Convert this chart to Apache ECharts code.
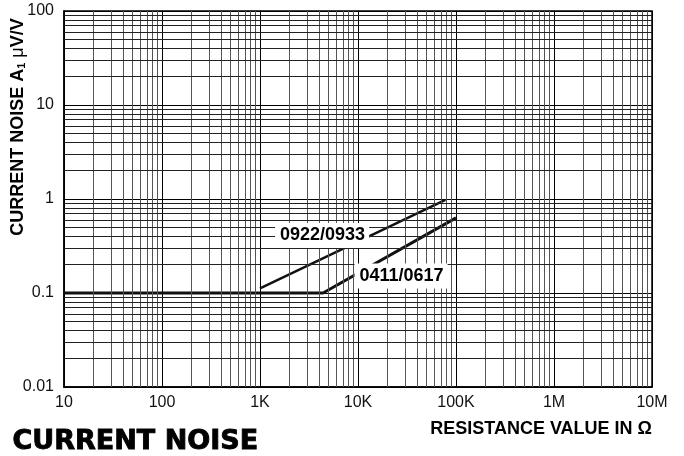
<!DOCTYPE html>
<html>
<head>
<meta charset="utf-8">
<script src="https://cdn.jsdelivr.net/npm/echarts@6/dist/echarts.min.js"></script>
<style>
  html, body { margin: 0; padding: 0; background: #fff; }
  #main { width: 684px; height: 456px; }
</style>
</head>
<body>
<div id="main"></div>
<script>
// values
var xTickLabels = {10: '10', 100: '100', 1000: '1K', 10000: '10K', 100000: '100K', 1000000: '1M', 10000000: '10M'};
var yTickLabels = {0.01: '0.01', 0.1: '0.1', 1: '1', 10: '10', 100: '100'};

var series0922 = [[1000, 0.112], [78000, 0.98]];
var series0411 = [[10, 0.1], [4400, 0.1], [100000, 0.63]];

var labelNames = ['0922/0933', '0411/0617'];
var labelAnchors = [[4300, 0.41], [27500, 0.152]];

// minor grid of the log paper
var xDecades = [10, 100, 1000, 10000, 100000, 1000000];
var yDecades = [0.01, 0.1, 1, 10];
var minorSteps = [2, 3, 4, 5, 6, 7, 8, 9];

var xMinor = [], yMinor = [];
xDecades.forEach(function (d) {
    minorSteps.forEach(function (m) { xMinor.push(d * m); });
});
yDecades.forEach(function (d) {
    minorSteps.forEach(function (m) { yMinor.push(+(d * m).toPrecision(3)); });
});

var chart = echarts.init(document.getElementById('main'), null, {renderer: 'canvas'});

var labelStyle = {
    show: true,
    formatter: '{b}',
    position: 'inside',
    color: '#000',
    fontFamily: 'Liberation Sans, Arial, sans-serif',
    fontWeight: 'bold',
    fontSize: 18,
    backgroundColor: '#fff',
    padding: [4, 4, 3, 5]
};

var option = {
    animation: false,
    grid: {
        left: 64,
        right: 32,
        top: 11,
        bottom: 69,
        show: true,
        borderColor: '#000',
        borderWidth: 1.5,
        backgroundColor: 'transparent'
    },
    xAxis: {
        type: 'log',
        logBase: 10,
        min: 10,
        max: 10000000,
        axisLine: {lineStyle: {color: '#000', width: 1.5}},
        axisTick: {show: false},
        axisLabel: {
            color: '#111',
            fontFamily: 'Liberation Sans, Arial, sans-serif',
            fontSize: 16,
            margin: 8,
            formatter: function (v) { return xTickLabels[v] || ''; }
        },
        splitLine: {show: true, lineStyle: {color: '#000', width: 1}}
    },
    yAxis: {
        type: 'log',
        logBase: 10,
        min: 0.01,
        max: 100,
        axisLine: {lineStyle: {color: '#000', width: 1.5}},
        axisTick: {show: false},
        axisLabel: {
            color: '#111',
            fontFamily: 'Liberation Sans, Arial, sans-serif',
            fontSize: 16,
            margin: 10,
            formatter: function (v) { return yTickLabels[v] || String(v); }
        },
        splitLine: {show: true, lineStyle: {color: '#000', width: 1}}
    },
    graphic: [
        {
            type: 'text',
            left: 12,
            top: 428,
            style: {
                text: 'CURRENT NOISE',
                fill: '#000',
                stroke: '#000',
                lineWidth: 0.9,
                font: 'bold 27px "DejaVu Sans", sans-serif'
            }
        },
        {
            type: 'text',
            x: 652,
            y: 429,
            style: {
                text: 'RESISTANCE VALUE IN Ω',
                fill: '#000',
                font: 'bold 18px "Liberation Sans", Arial, sans-serif',
                textAlign: 'right',
                textVerticalAlign: 'middle'
            }
        },
        {
            type: 'text',
            x: 18,
            y: 127,
            rotation: Math.PI / 2,
            style: {
                text: '{a|CURRENT NOISE A}{s|1}{m| μ}{a|V/V}',
                textAlign: 'center',
                textVerticalAlign: 'middle',
                fill: '#000',
                rich: {
                    a: {fontFamily: 'Liberation Sans, Arial, sans-serif', fontWeight: 'bold', fontSize: 18, color: '#000'},
                    s: {fontFamily: 'Liberation Sans, Arial, sans-serif', fontWeight: 'bold', fontSize: 11, color: '#000', verticalAlign: 'bottom', padding: [6, 0, 0, 0]},
                    m: {fontFamily: 'Liberation Sans, Arial, sans-serif', fontSize: 18, color: '#000'}
                }
            }
        }
    ],
    series: [
        {
            name: 'vgrid',
            type: 'line',
            data: [],
            z: 1,
            markLine: {
                silent: true,
                animation: false,
                symbol: ['none', 'none'],
                label: {show: false},
                lineStyle: {color: '#555', width: 1, type: 'solid'},
                data: xMinor.map(function (v) { return {xAxis: v}; })
            }
        },
        {
            name: 'hgrid',
            type: 'line',
            data: [],
            z: 1,
            markLine: {
                silent: true,
                animation: false,
                symbol: ['none', 'none'],
                label: {show: false},
                lineStyle: {color: '#222', width: 1, type: 'solid'},
                data: yMinor.map(function (v) { return {yAxis: v}; })
            }
        },
        {
            name: '0411/0617',
            type: 'line',
            data: series0411,
            z: 3,
            showSymbol: false,
            symbol: 'none',
            lineStyle: {color: '#111', width: 3}
        },
        {
            name: '0922/0933',
            type: 'line',
            data: series0922,
            z: 3,
            showSymbol: false,
            symbol: 'none',
            lineStyle: {color: '#111', width: 2.5}
        },
        {
            name: 'labels',
            type: 'line',
            data: [],
            z: 5,
            markPoint: {
                silent: true,
                animation: false,
                symbol: 'rect',
                symbolSize: 0,
                label: labelStyle,
                data: labelNames.map(function (n, i) {
                    return {name: n, coord: labelAnchors[i]};
                })
            }
        }
    ]
};

chart.setOption(option);
</script>
</body>
</html>
